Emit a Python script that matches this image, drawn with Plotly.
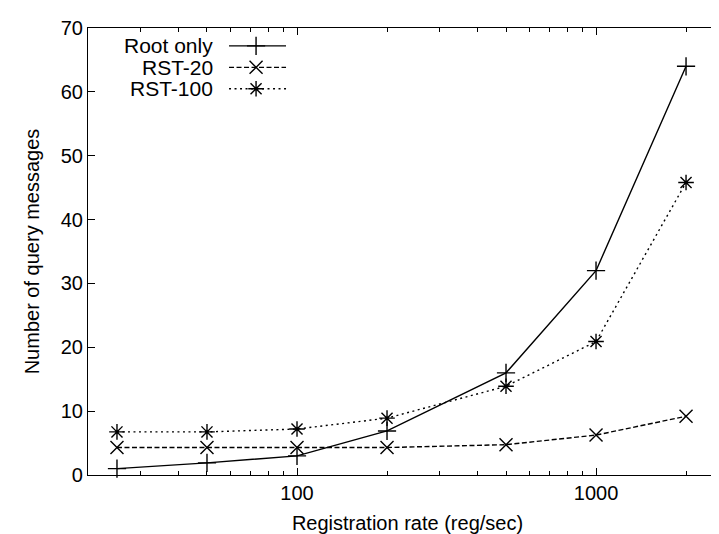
import plotly.graph_objects as go
import math

# ---- data ----
rates = [25, 50, 100, 200, 500, 1000, 2000]
root_only = [1.0, 1.9, 3.0, 6.9, 16.0, 32.0, 64.0]
rst_20 = [4.3, 4.3, 4.3, 4.3, 4.75, 6.25, 9.2]
rst_100 = [6.75, 6.75, 7.2, 8.9, 13.9, 20.9, 45.8]
series_names = ["Root only", "RST-20", "RST-100"]
x_tick_vals = [100, 1000]
x_tick_text = ["100", "1000"]
x_minor_vals = [30, 40, 50, 60, 70, 80, 90, 200, 300, 400, 500, 600, 700, 800, 900, 2000]
y_tick_vals = [0, 10, 20, 30, 40, 50, 60, 70]

FONT = "Liberation Sans, Arial, Helvetica, sans-serif"
BLACK = "#000000"

styles = [
    dict(dash="solid", symbol="cross-thin"),
    dict(dash="5px,2.5px", symbol="x-thin"),
    dict(dash="2px,3.5px", symbol="asterisk"),
]
values = [root_only, rst_20, rst_100]
MSIZE = 13

fig = go.Figure()
for name, vals, st in zip(series_names, values, styles):
    fig.add_trace(go.Scatter(
        x=rates, y=vals, name=name, mode="lines+markers",
        line=dict(color=BLACK, width=1.4, dash=st["dash"]),
        marker=dict(symbol=st["symbol"], size=MSIZE, color=BLACK,
                    line=dict(color=BLACK, width=1.4)),
        showlegend=False, cliponaxis=False,
    ))

# manual gnuplot-style legend (text right-aligned, sample to the right)
leg_rows = [0.960, 0.912, 0.864]
for name, st, yy in zip(series_names, styles, leg_rows):
    fig.add_trace(go.Scatter(
        x=[0.2207, 0.3099], y=[yy, yy], mode="lines", xaxis="x2", yaxis="y2",
        line=dict(color=BLACK, width=1.4, dash=st["dash"]), showlegend=False,
        hoverinfo="skip",
    ))
    fig.add_trace(go.Scatter(
        x=[0.263], y=[yy], mode="markers", xaxis="x2", yaxis="y2",
        marker=dict(symbol=st["symbol"], size=MSIZE, color=BLACK,
                    line=dict(color=BLACK, width=1.4)),
        showlegend=False, hoverinfo="skip",
    ))
    fig.add_annotation(x=0.1987, y=yy, xref="x2", yref="y2", text=name,
                       showarrow=False, xanchor="right", yanchor="middle",
                       font=dict(family=FONT, size=21, color=BLACK))

fig.update_layout(
    width=719, height=534,
    margin=dict(l=80, r=0, t=20, b=67),
    paper_bgcolor="white", plot_bgcolor="white",
    font=dict(family=FONT, size=20, color=BLACK),
    xaxis=dict(
        type="log", range=[math.log10(20), 3.438],
        tickvals=x_tick_vals, ticktext=x_tick_text,
        ticks="inside", ticklen=7, tickwidth=1, tickcolor=BLACK,
        minor=dict(tickvals=x_minor_vals, ticks="inside", ticklen=4,
                   tickwidth=1, tickcolor=BLACK, showgrid=False),
        showline=True, linecolor=BLACK, linewidth=1.2, mirror="allticks",
        showgrid=False, zeroline=False,
        title=dict(text="Registration rate (reg/sec)", standoff=12,
                   font=dict(size=20)),
        tickfont=dict(size=20),
    ),
    yaxis=dict(
        range=[0, 70], tickvals=y_tick_vals,
        ticks="inside", ticklen=7, tickwidth=1, tickcolor=BLACK,
        showline=True, linecolor=BLACK, linewidth=1.2, mirror=False,
        showgrid=False, zeroline=False,
        title=dict(text="Number of query messages", standoff=15,
                   font=dict(size=20)),
        tickfont=dict(size=20),
    ),
    xaxis2=dict(range=[0, 1], domain=[0, 1], overlaying="x", visible=False,
                fixedrange=True),
    yaxis2=dict(range=[0, 1], domain=[0, 1], overlaying="y", visible=False,
                fixedrange=True),
)

fig.write_html("out.html")
